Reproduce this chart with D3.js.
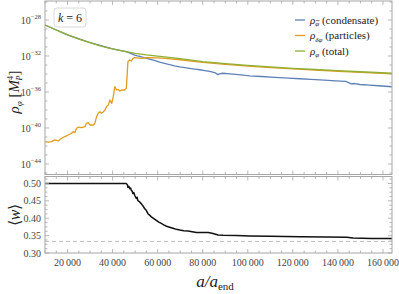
<!DOCTYPE html>
<html>
<head>
<meta charset="utf-8">
<script src="https://cdn.jsdelivr.net/npm/d3@7"></script>
<style>
body{margin:0;background:#fff}
</style>
</head>
<body>
<svg id="chart" width="399" height="294"></svg>
<script>
// ===== data =====
// a/a_end values and log10(rho) values for each series
const totalA = [10000,14000,18000,22000,26000,30000,34000,38000,42000,46000,50000,55000,60000,65000,70000,80000,90000,100000,110000,120000,130000,140000,150000,164000];
const totalLog = [-28.56,-29.0,-29.44,-29.85,-30.22,-30.52,-30.85,-31.1,-31.32,-31.52,-31.7,-31.88,-32.02,-32.16,-32.3,-32.62,-32.85,-33.05,-33.22,-33.37,-33.5,-33.63,-33.75,-33.92];

const condA = [10000,20000,30000,40000,46000,48000,49800,51000,52000,54000,56400,58500,60900,63000,65300,67500,69800,72000,74200,76500,78700,81000,83100,85300,86700,87500,88900,92000,96000,100900,106000,112000,118000,123100,128000,134000,139000,143500,145000,145800,147500,149800,154000,158000,164000];
const condLog = [-28.56,-29.65,-30.52,-31.22,-31.52,-31.7,-31.9,-31.98,-32.03,-32.18,-32.34,-32.5,-32.68,-32.82,-32.97,-33.1,-33.22,-33.3,-33.38,-33.46,-33.53,-33.62,-33.7,-33.84,-34.07,-33.98,-33.92,-33.98,-34.08,-34.2,-34.28,-34.38,-34.46,-34.53,-34.6,-34.68,-34.76,-34.83,-34.98,-35.1,-35.06,-35.17,-35.24,-35.31,-35.42];

const partA = [10000,11500,12900,14400,15900,17300,18800,20300,21800,22500,23200,24000,24800,26200,27700,28400,29200,29900,31400,32100,32900,33600,34400,35100,35900,36600,37300,38100,38800,39600,40300,41000,41800,42400,43200,44000,45300,46100,46800,47600,48300,49000,49800,52700,55500,60000,63100,70000,80000,90000,100000,110000,120000,130000,140000,150000,164000];
const partLog = [-41.52,-41.58,-41.52,-41.33,-41.44,-41.14,-40.97,-40.78,-40.59,-40.41,-40.52,-40.03,-39.92,-39.97,-39.86,-39.48,-39.41,-39.67,-39.67,-39.48,-38.74,-38.37,-38.19,-38.37,-38.19,-38.0,-37.63,-37.44,-36.89,-37.26,-36.52,-35.41,-35.78,-35.72,-35.89,-35.78,-35.78,-35.59,-32.63,-32.44,-32.56,-32.26,-32.19,-32.26,-32.19,-32.2,-32.26,-32.42,-32.72,-32.93,-33.12,-33.29,-33.44,-33.57,-33.7,-33.82,-33.99];

const wA = [10000,46000,46500,46800,47200,47600,48000,48300,48700,49000,49400,49800,50500,50900,51200,52000,52700,53400,54200,55000,55700,56400,57200,58300,59400,60500,61600,62700,63900,65300,66800,68300,69800,71600,73500,75300,77200,80000,82400,84600,86800,89000,95000,100900,110000,123100,135000,143900,146700,155000,164000];
const wVal = [0.5,0.5,0.497,0.489,0.492,0.485,0.487,0.48,0.478,0.471,0.474,0.466,0.457,0.46,0.451,0.447,0.442,0.436,0.428,0.422,0.413,0.409,0.404,0.399,0.394,0.389,0.385,0.381,0.377,0.374,0.371,0.368,0.366,0.364,0.363,0.361,0.359,0.359,0.359,0.356,0.352,0.351,0.35,0.349,0.348,0.347,0.346,0.345,0.343,0.342,0.342];

const wRadiation = 1/3;
const xTicks = [20000,40000,60000,80000,100000,120000,140000,160000];
const rhoTicks = [-44,-40,-36,-32,-28];
const wTicks = [0.30,0.35,0.40,0.45,0.50];
const legendLabels = [
  {sym:'\u03C1', sub:'\u03C6', bar:true, txt:' (condensate)', color:'#5E81B5'},
  {sym:'\u03C1', sub:'\u03B4\u03C6', bar:false, txt:' (particles)', color:'#E19C24'},
  {sym:'\u03C1', sub:'\u03C6', bar:false, txt:' (total)', color:'#8FB032'}
];

// ===== layout =====
const svg = d3.select('#chart');
const L = 45, R = 392;
const top1 = 1, bot1 = 174.5, top2 = 176.5, bot2 = 253;
const frameCol = '#a6a6a6', labCol = '#444';

const x = d3.scaleLinear().domain([10000,164000]).range([L,R]);
const y1 = d3.scaleLinear().domain([-45.17,-25.89]).range([bot1,top1]);
const y2 = d3.scaleLinear().domain([0.30,0.52]).range([bot2,top2]);

function frame(t,b){
  svg.append('rect').attr('x',L).attr('y',t).attr('width',R-L).attr('height',b-t)
    .attr('fill','none').attr('stroke',frameCol).attr('stroke-width',1);
}

// x ticks on both panels (inward, on every horizontal edge)
const xMinor = d3.range(10000,164001,5000);
function xTickMarks(yy, dir){
  svg.append('g').selectAll('line').data(xMinor).join('line')
    .attr('x1',d=>x(d)).attr('x2',d=>x(d))
    .attr('y1',yy).attr('y2',d=>yy+dir*(d%20000===0?4:2.5))
    .attr('stroke',frameCol).attr('stroke-width',0.8);
}

// y ticks on left and right
function yTickMarks(scale, major, minor){
  [[L,1],[R,-1]].forEach(([xx,dir])=>{
    svg.append('g').selectAll('line').data(minor).join('line')
      .attr('x1',xx).attr('x2',d=>xx+dir*(major.some(m=>Math.abs(m-d)<1e-9)?4:2.5))
      .attr('y1',d=>scale(d)).attr('y2',d=>scale(d))
      .attr('stroke',frameCol).attr('stroke-width',0.8);
  });
}

// dashed radiation line
svg.append('line').attr('x1',L).attr('x2',R).attr('y1',y2(wRadiation)).attr('y2',y2(wRadiation))
  .attr('stroke','#bdbdbd').attr('stroke-width',1).attr('stroke-dasharray','4,3');

// ===== top panel lines =====
const lineTop = (A,V) => d3.line().x((d,i)=>x(A[i])).y(d=>y1(d))(V);
const gLines = svg.append('g');
gLines.append('path').attr('d',lineTop(condA,condLog)).attr('fill','none')
  .attr('stroke','#5E81B5').attr('stroke-width',1.3).attr('stroke-linejoin','round');
gLines.append('path').attr('d',lineTop(partA,partLog)).attr('fill','none')
  .attr('stroke','#E19C24').attr('stroke-width',1.3).attr('stroke-linejoin','round');
gLines.append('path').attr('d',lineTop(totalA,totalLog)).attr('fill','none')
  .attr('stroke','#8FB032').attr('stroke-width',1.3).attr('stroke-linejoin','round');

// ===== bottom panel line =====
svg.append('path').attr('d', d3.line().x((d,i)=>x(wA[i])).y(d=>y2(d))(wVal))
  .attr('fill','none').attr('stroke','#111').attr('stroke-width',1.5).attr('stroke-linejoin','round');

// frames + ticks
frame(top1,bot1); frame(top2,bot2);
xTickMarks(top1,1); xTickMarks(bot1,-1); xTickMarks(top2,1); xTickMarks(bot2,-1);
yTickMarks(y1, rhoTicks, d3.range(-45,-25,1));
yTickMarks(y2, wTicks, d3.range(0.30,0.521,0.0125).map(v=>+v.toFixed(4)));

// ===== tick labels =====
const fmtX = d => d3.format(',')(d).replace(',', '\u2009');
svg.append('g').selectAll('text').data(xTicks).join('text')
  .attr('x',d=>x(d)).attr('y',266).attr('text-anchor','middle')
  .attr('font-size',10).attr('fill',labCol).text(fmtX);

svg.append('g').selectAll('text').data(wTicks).join('text')
  .attr('x',41).attr('y',d=>y2(d)+3.5).attr('text-anchor','end')
  .attr('font-size',10).attr('fill',labCol).text(d=>d.toFixed(2));

const rl = svg.append('g').selectAll('text').data(rhoTicks).join('text')
  .attr('x',41).attr('y',d=>y1(d)+4).attr('text-anchor','end')
  .attr('font-size',10).attr('fill',labCol);
rl.append('tspan').text('10');
rl.append('tspan').attr('dy',-4.5).attr('font-size',6.5).text(d=>'\u2212'+Math.abs(d));

// ===== axis titles =====
const yt1 = svg.append('text').attr('transform','translate(19,92) rotate(-90)')
  .attr('text-anchor','middle').attr('font-size',15).attr('fill','#222');
yt1.append('tspan').attr('font-style','italic').text('\u03C1');
yt1.append('tspan').attr('font-size',9).attr('dy',3).attr('font-style','italic').text('\u03C6');
yt1.append('tspan').attr('dy',-3).text(' [');
yt1.append('tspan').attr('font-style','italic').text('M');
yt1.append('tspan').attr('font-size',8).attr('dy',-6).text('4');
yt1.append('tspan').attr('font-size',8).attr('dx',-4.5).attr('dy',9).attr('font-style','italic').text('P');
yt1.append('tspan').attr('dy',-3).text(']');

const wt = svg.append('text').attr('transform','translate(20,215) rotate(-90)')
  .attr('text-anchor','middle').attr('font-size',16).attr('fill','#222');
wt.append('tspan').text('\u27E8');
wt.append('tspan').attr('font-style','italic').text('w');
wt.append('tspan').text('\u27E9');

const xt = svg.append('text').attr('x',215).attr('y',287).attr('text-anchor','middle')
  .attr('font-size',17).attr('fill','#222');
xt.append('tspan').attr('font-style','italic').text('a/a');
xt.append('tspan').attr('font-size',11).attr('dy',3).text('end');

// ===== k = 6 box =====
svg.append('rect').attr('x',54).attr('y',8).attr('width',32).attr('height',19).attr('rx',3)
  .attr('fill','#fff').attr('stroke','#cfcfcf').attr('stroke-width',0.8);
const kt = svg.append('text').attr('x',70).attr('y',21.5).attr('text-anchor','middle')
  .attr('font-size',12).attr('fill','#222');
kt.append('tspan').attr('font-style','italic').text('k');
kt.append('tspan').text(' = 6');

// ===== legend =====
const lg = svg.append('g').selectAll('g').data(legendLabels).join('g')
  .attr('transform',(d,i)=>`translate(295,${20+i*15.5})`);
lg.append('line').attr('x1',0).attr('x2',10).attr('stroke',d=>d.color).attr('stroke-width',1.3);
const lt = lg.append('text').attr('x',15).attr('y',3.5).attr('font-size',11).attr('fill','#222');
lt.append('tspan').attr('font-style','italic').text(d=>d.sym);
lt.append('tspan').attr('font-size',7).attr('dy',2.5).attr('font-style','italic').text(d=>d.sub);
lt.append('tspan').attr('dy',-2.5).text(d=>d.txt);
// bar over the condensate subscript
lg.filter(d=>d.bar).append('line').attr('x1',20.8).attr('x2',24.6).attr('y1',0.6).attr('y2',0.6)
  .attr('stroke','#222').attr('stroke-width',0.6);

// serif font on every text node
svg.selectAll('text, tspan').style('font-family','"Liberation Serif"');
</script>
</body>
</html>
